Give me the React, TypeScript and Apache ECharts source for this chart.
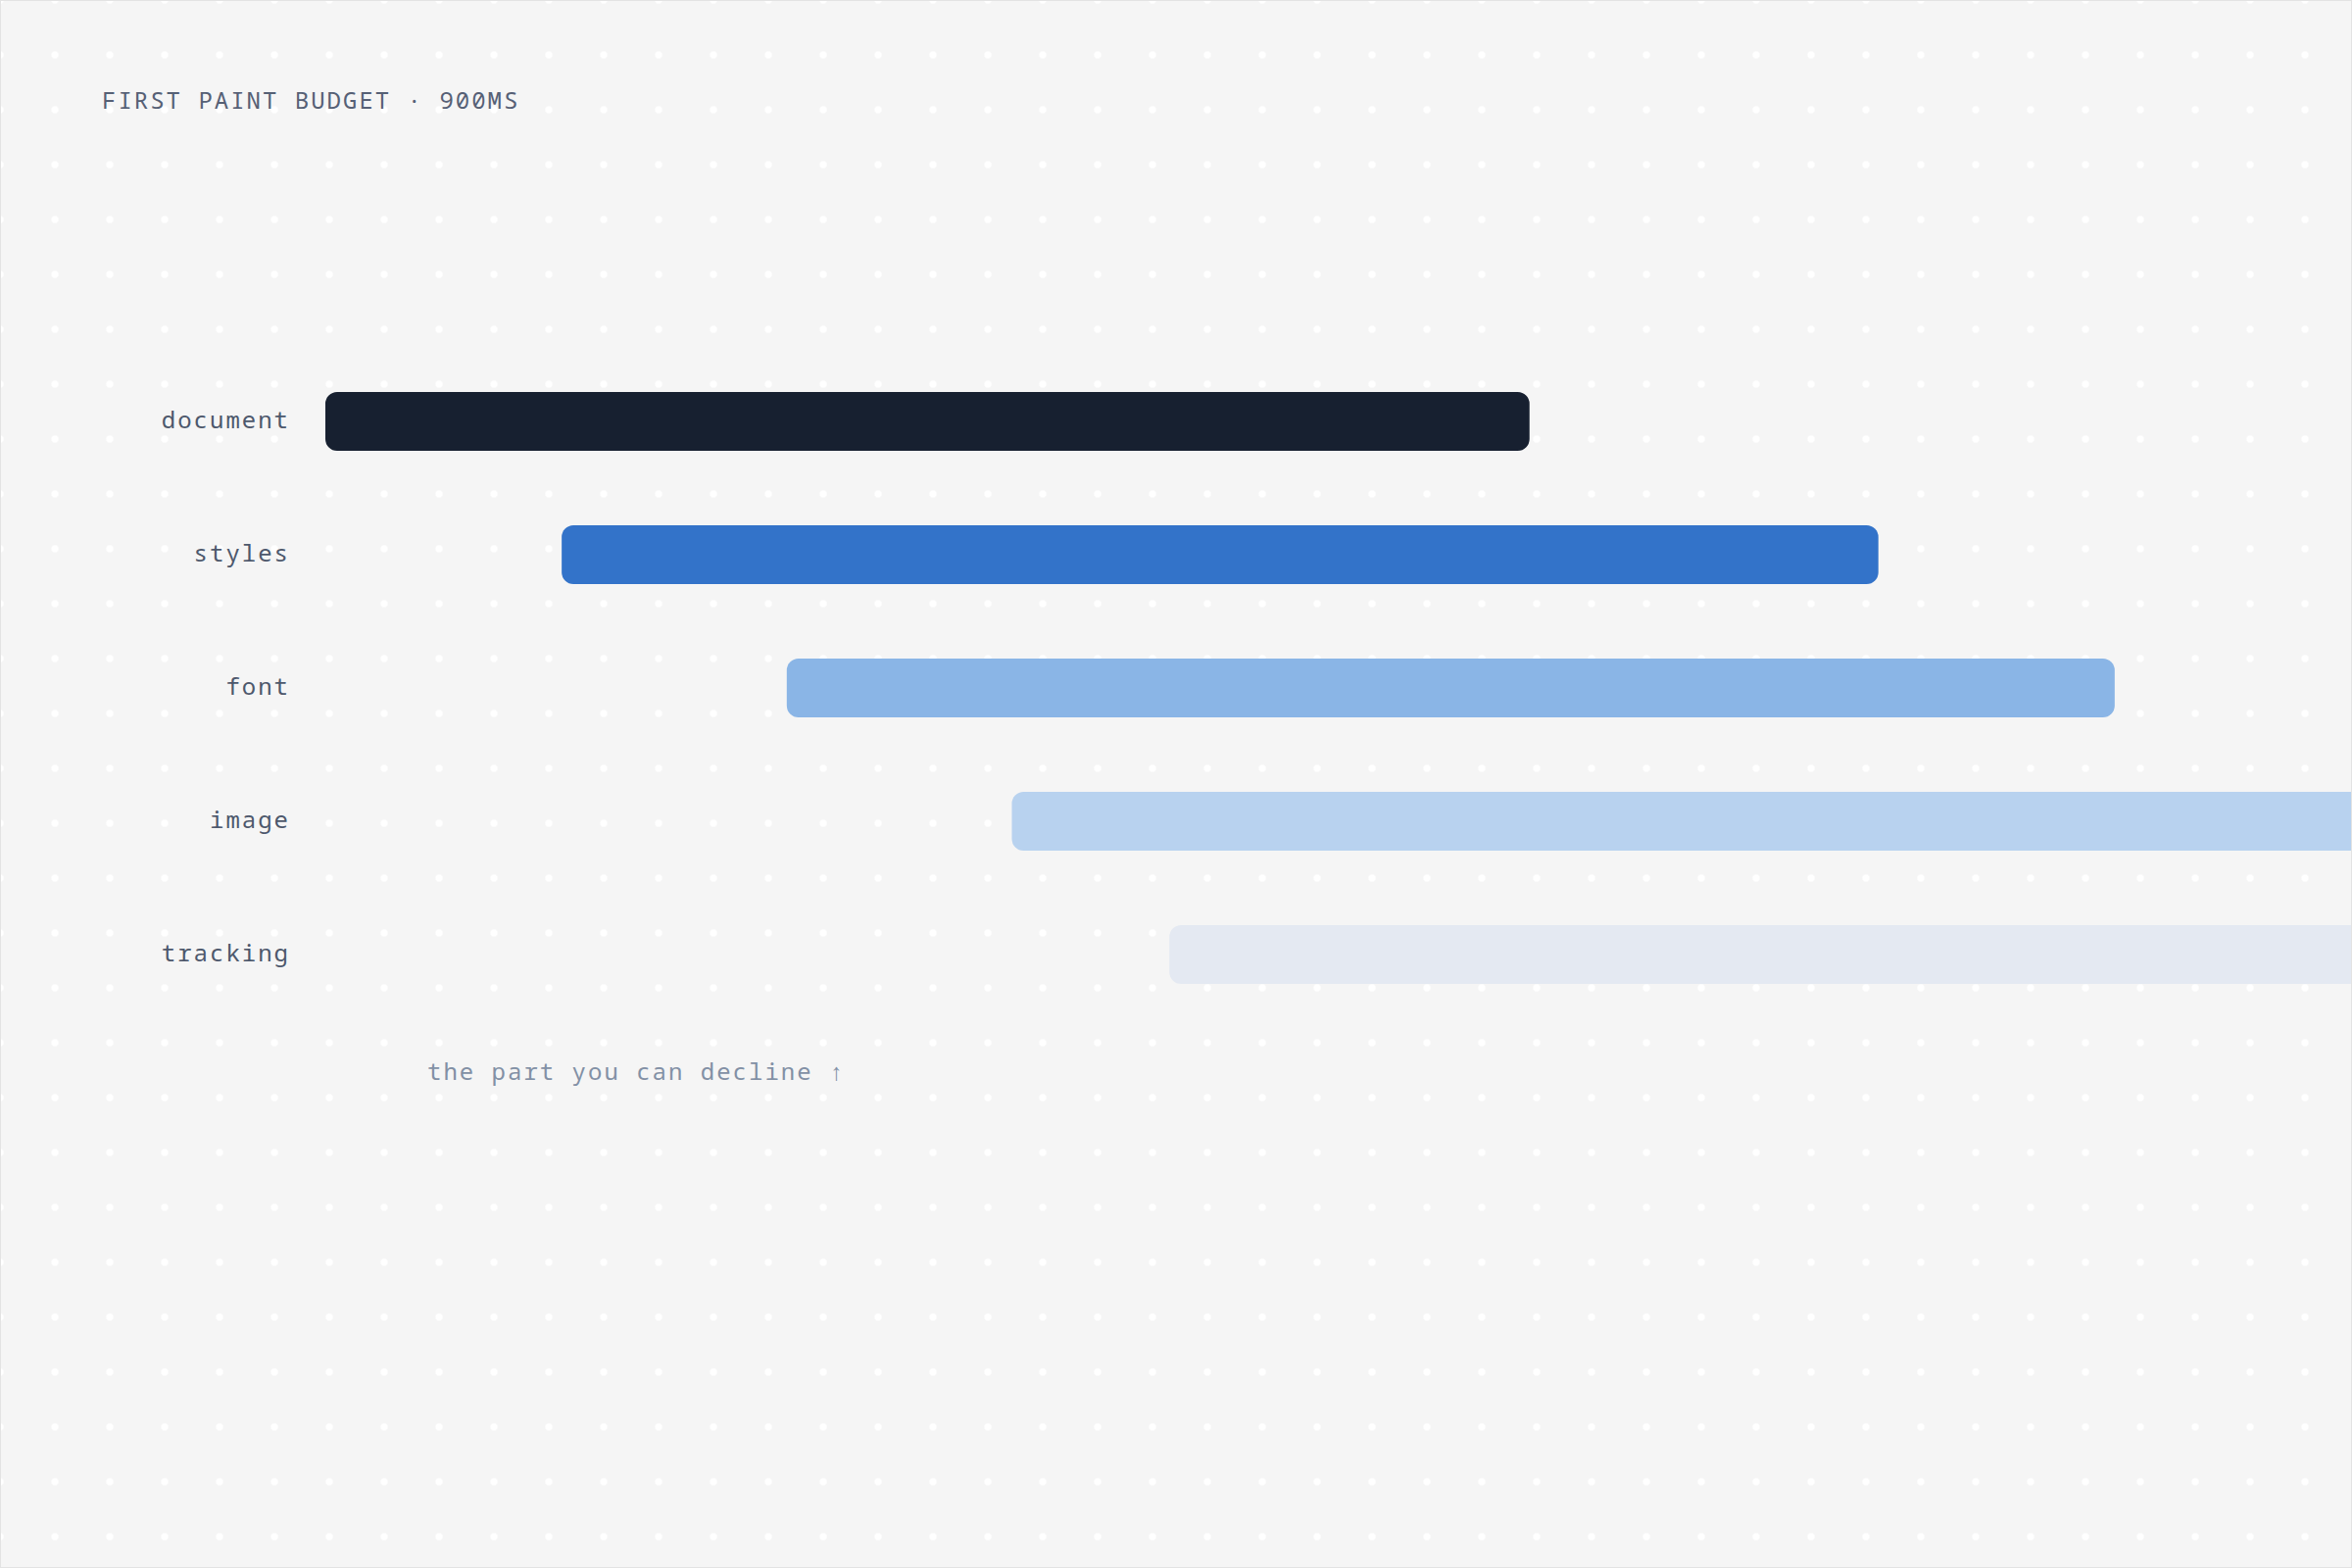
import React, { useEffect, useRef } from "react";
import * as echarts from "echarts";

const categories = ["document", "styles", "font", "image", "tracking"];
const startMs = [0, 105, 205, 305, 375];
const endMs = [535, 690, 795, 1000, 1100];
const barColors = ["#172030", "#3373c9", "#8ab5e6", "#b8d2ef", "#e4e9f2"];
const budgetMs = 900;
const titleText = "FIRST PAINT BUDGET · 900MS";
const noteText = "the part you can decline ↑";

const FONT = '"Noto Sans Mono", "DejaVu Sans Mono", monospace';

export default function App() {
  const ref = useRef<HTMLDivElement>(null);
  useEffect(() => {
    document.body.style.margin = "0";
    const el = ref.current!;
    const chart = echarts.init(el, null, { renderer: "svg" });
    chart.setOption({
      animation: false,
      grid: { left: 331, right: 0, top: 361, height: 680 },
      xAxis: { type: "value", min: 0, max: budgetMs, show: false },
      yAxis: {
        type: "category",
        data: categories,
        inverse: true,
        axisLine: { show: false },
        axisTick: { show: false },
        splitLine: { show: false },
        axisLabel: {
          margin: 36,
          fontSize: 24,
          fontFamily: FONT,
          color: "#4d586c",
          formatter: "{v|{value}}",
          rich: {
            v: {
              fontSize: 24,
              fontFamily: FONT,
              color: "#4d586c",
              lineHeight: 24,
              padding: [0, 0, 6, 0],
            },
          },
        },
      },
      series: [
        {
          type: "bar",
          stack: "t",
          data: startMs,
          barWidth: 60,
          silent: true,
          clip: false,
          itemStyle: { color: "rgba(0,0,0,0)" },
        },
        {
          type: "bar",
          stack: "t",
          barWidth: 60,
          clip: false,
          data: endMs.map((e, i) => ({
            value: e - startMs[i],
            itemStyle: { color: barColors[i] },
          })),
          itemStyle: { borderRadius: 12 },
        },
      ],
      graphic: [
        {
          type: "text",
          x: 103,
          y: 100,
          style: {
            text: titleText,
            fill: "#566075",
            font: `24px ${FONT}`,
            verticalAlign: "middle",
          },
        },
        {
          type: "text",
          x: 435,
          y: 1091.5,
          style: {
            text: noteText,
            fill: "#8290a5",
            font: `24px ${FONT}`,
            verticalAlign: "middle",
          },
        },
      ],
    });
    el.querySelectorAll("text").forEach((t) => t.setAttribute("letter-spacing", "2"));
    return () => chart.dispose();
  }, []);
  return (
    <div
      style={{
        width: 2400,
        height: 1600,
        boxSizing: "border-box",
        border: "1px solid #e3e3e3",
        backgroundColor: "#f5f5f5",
        backgroundImage:
          "radial-gradient(circle, #ffffff 3px, rgba(255,255,255,0) 4.5px)",
        backgroundSize: "56px 56px",
        backgroundPosition: "-28px -28px",
        backgroundOrigin: "border-box",
        overflow: "hidden",
      }}
    >
      <div ref={ref} style={{ width: 2398, height: 1598 }} />
    </div>
  );
}
